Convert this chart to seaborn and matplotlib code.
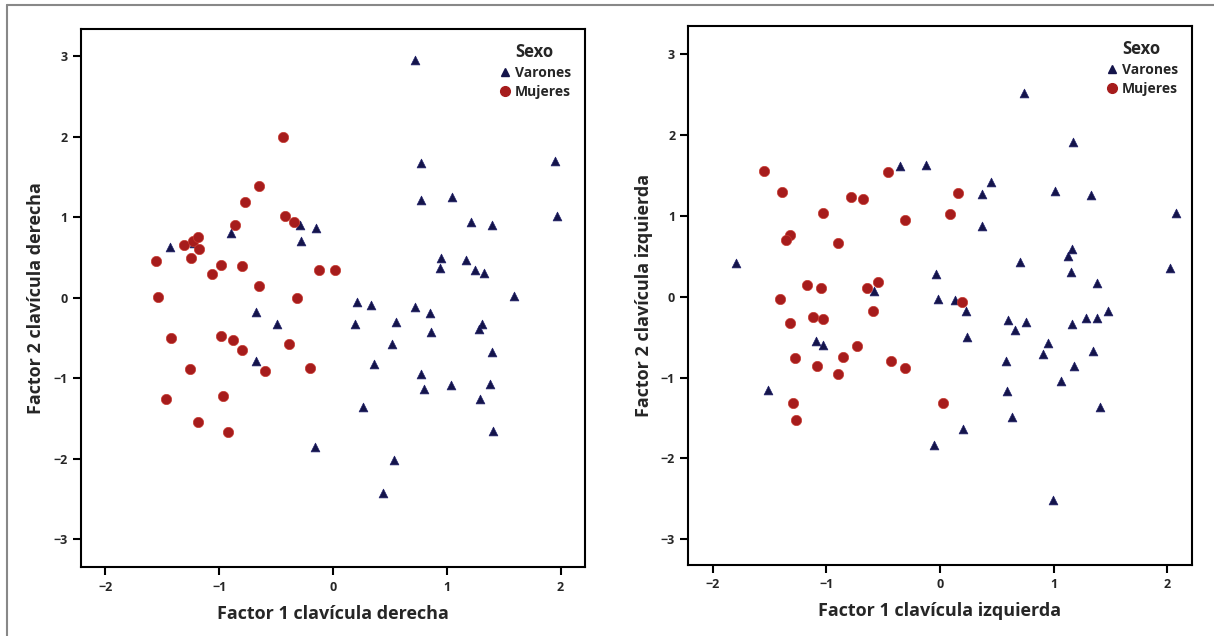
import pandas as pd
import seaborn as sns
import matplotlib.pyplot as plt
from matplotlib.lines import Line2D

# clavícula derecha
der_var_x = [-1.43, -1.22, -0.90, -0.29, -0.15, -0.28, 0.72, 0.77, 1.95, 0.77, 1.05, 1.97,
             1.21, 1.40, 0.95, 0.94, 1.17, 1.25, 1.33, 1.59, 0.21, 0.33, 0.72, 0.85,
             0.19, 0.55, 0.86, 1.31, 1.28, 0.52, 1.40, 0.36, 0.77, 0.80, 1.04, 1.38,
             1.29, 0.26, 1.41, 0.54, 0.44, -0.68, -0.49, -0.68, -0.16]
der_var_y = [0.63, 0.68, 0.80, 0.90, 0.87, 0.70, 2.95, 1.68, 1.70, 1.21, 1.25, 1.01,
             0.94, 0.90, 0.50, 0.37, 0.47, 0.35, 0.31, 0.02, -0.05, -0.09, -0.11, -0.19,
             -0.33, -0.30, -0.42, -0.33, -0.39, -0.58, -0.68, -0.82, -0.95, -1.13, -1.09, -1.07,
             -1.26, -1.36, -1.65, -2.02, -2.43, -0.18, -0.33, -0.78, -1.86]
der_muj_x = [-0.44, -0.65, -0.77, -0.86, -0.42, -0.34, -1.31, -1.23, -1.19, -1.18, -1.25,
             -1.56, -0.98, -0.80, -1.06, -0.12, 0.02, -0.65, -1.54, -0.32, -1.42, -0.98,
             -0.88, -0.80, -0.39, -1.26, -0.60, -0.20, -1.47, -0.97, -1.19, -0.92]
der_muj_y = [2.00, 1.39, 1.19, 0.91, 1.02, 0.94, 0.66, 0.70, 0.75, 0.61, 0.50,
             0.46, 0.41, 0.39, 0.29, 0.34, 0.35, 0.14, 0.01, 0.00, -0.50, -0.47,
             -0.52, -0.65, -0.58, -0.89, -0.91, -0.87, -1.26, -1.22, -1.55, -1.67]

# clavícula izquierda
izq_var_x = [-0.35, -0.12, -1.80, -0.04, -0.58, -0.02, -1.09, -1.03, -1.51, -0.05,
             0.74, 1.17, 0.45, 0.37, 1.01, 1.33, 2.08, 0.37, 1.16, 1.13, 0.70, 1.15,
             2.02, 1.38, 0.13, 0.23, 0.60, 0.76, 0.66, 1.16, 1.28, 1.38, 1.48, 0.24,
             0.95, 0.91, 0.58, 1.35, 1.18, 1.06, 0.59, 1.41, 0.63, 0.20, 0.99]
izq_var_y = [1.62, 1.63, 0.42, 0.28, 0.07, -0.03, -0.55, -0.60, -1.15, -1.83,
             2.52, 1.91, 1.42, 1.27, 1.31, 1.26, 1.03, 0.88, 0.59, 0.51, 0.43, 0.31,
             0.35, 0.17, -0.04, -0.18, -0.29, -0.31, -0.41, -0.34, -0.26, -0.26, -0.18, -0.50,
             -0.57, -0.71, -0.80, -0.67, -0.86, -1.04, -1.17, -1.37, -1.49, -1.64, -2.52]
izq_muj_x = [-1.55, -1.39, -0.78, -0.68, -0.46, -1.03, -0.31, -1.32, -1.36, -0.90,
             -1.17, -1.05, -0.64, -0.55, -1.41, -0.59, -1.32, -1.12, -1.03, -0.73,
             -1.28, -0.85, -1.08, -0.90, -0.43, -0.31, -1.29, -1.27, 0.16, 0.09,
             0.19, 0.03]
izq_muj_y = [1.56, 1.30, 1.24, 1.21, 1.54, 1.03, 0.95, 0.77, 0.70, 0.66,
             0.15, 0.11, 0.11, 0.18, -0.03, -0.18, -0.32, -0.25, -0.27, -0.61,
             -0.76, -0.75, -0.86, -0.95, -0.80, -0.88, -1.31, -1.53, 1.28, 1.02,
             -0.07, -1.32]

grupos = ["Varones", "Mujeres"]
colores = {"Varones": "#14144a", "Mujeres": "#a61c1c"}
marcas = {"Varones": "^", "Mujeres": "o"}


def tabla(vx, vy, mx, my):
    return pd.DataFrame({
        "x": vx + mx,
        "y": vy + my,
        "Sexo": ["Varones"] * len(vx) + ["Mujeres"] * len(mx),
    })


sns.set_style("ticks")
plt.rcParams['font.family'] = ['Open Sans', 'DejaVu Sans']

fig = plt.figure(figsize=(12.14, 6.36), dpi=100)
ax1 = fig.add_axes([0.0667, 0.108, 0.4152, 0.8464])
ax2 = fig.add_axes([0.567, 0.1116, 0.4147, 0.8475])

paneles = [
    (ax1, tabla(der_var_x, der_var_y, der_muj_x, der_muj_y),
     "Factor 1 clavícula derecha", "Factor 2 clavícula derecha", (-3.35, 3.34)),
    (ax2, tabla(izq_var_x, izq_var_y, izq_muj_x, izq_muj_y),
     "Factor 1 clavícula izquierda", "Factor 2 clavícula izquierda", (-3.32, 3.35)),
]

for ax, df, xl, yl, ylim in paneles:
    for g in grupos:
        sub = df[df["Sexo"] == g]
        sns.scatterplot(data=sub, x="x", y="y", ax=ax, color=colores[g],
                        marker=marcas[g], s=55 if g == "Mujeres" else 40,
                        edgecolor="#20206a" if g == "Varones" else "#c83a30",
                        linewidth=0.5, legend=False)
    ax.set_xlim(-2.215, 2.215)
    ax.set_ylim(*ylim)
    ax.set_xticks([-2, -1, 0, 1, 2])
    ax.set_yticks([-3, -2, -1, 0, 1, 2, 3])
    ax.set_xlabel(xl, fontsize=13, fontweight="bold", labelpad=8)
    ax.set_ylabel(yl, fontsize=13, fontweight="bold", labelpad=6)
    ax.tick_params(length=6, width=1.5, labelsize=9, color="black")
    for lab in ax.get_xticklabels() + ax.get_yticklabels():
        lab.set_fontweight("bold")
    for sp in ax.spines.values():
        sp.set_linewidth(1.5)
        sp.set_color("black")
    handles = [
        Line2D([], [], ls="", marker="^", color=colores["Varones"], markersize=6),
        Line2D([], [], ls="", marker="o", color=colores["Mujeres"], markersize=7),
    ]
    leg = ax.legend(handles, grupos, title="Sexo", loc="upper right",
                    frameon=False, prop={"weight": "bold", "size": 10},
                    handletextpad=0.2, labelspacing=0.35, borderaxespad=0.6,
                    handlelength=1.0)
    leg.get_title().set_fontweight("bold")
    leg.get_title().set_fontsize(12)

# marco de la imagen
fig.add_artist(Line2D([0.006, 1.0], [0.992, 0.992], color="#888888", lw=1.5))
fig.add_artist(Line2D([0.006, 0.006], [0.0, 0.992], color="#888888", lw=1.5))

fig.savefig("out.png", dpi=100)
